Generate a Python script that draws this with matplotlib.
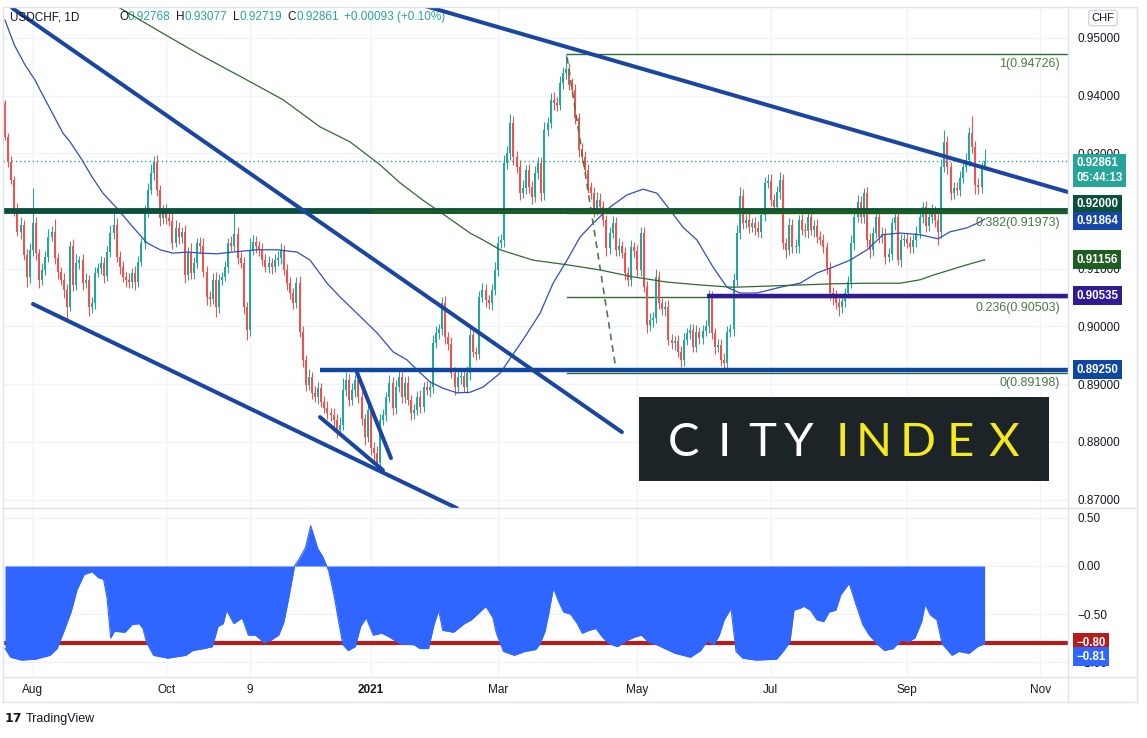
"""USD/CHF daily candles with trend lines, fib levels and a correlation pane"""

import numpy as np
import pandas as pd
import matplotlib
matplotlib.use("Agg")
import matplotlib.pyplot as plt
from matplotlib.lines import Line2D
from matplotlib.patches import Rectangle

plt.rcParams['font.family'] = ['Liberation Sans', 'DejaVu Sans']

W, H = 1147, 738
GREEN = '#26A69A'
RED = '#EF5350'
DARK = '#131722'
GRID = '#F0F3FA'
BORDER = '#E0E3EB'

# daily closes in pips (0.xxxx), one list per month
jul20 = [9328, 9285, 9254, 9202, 9164, 9176, 9124, 9086, 9133]
aug20 = [9179, 9127, 9081, 9098, 9121, 9155, 9164, 9119, 9095, 9081, 9063,
         9034, 9140, 9072, 9110, 9115, 9075, 9081, 9034, 9040, 9093]
sep20 = [9101, 9110, 9088, 9129, 9162, 9176, 9121, 9103, 9086, 9081, 9077,
         9093, 9077, 9112, 9145, 9198, 9237, 9266, 9285, 9237, 9188, 9200]
oct20 = [9188, 9183, 9145, 9170, 9155, 9164, 9089, 9127, 9093, 9110, 9145,
         9140, 9095, 9051, 9048, 9081, 9034, 9081, 9086, 9103, 9145, 9140]
nov20 = [9160, 9119, 9110, 9034, 8994, 9133, 9147, 9140, 9133, 9115, 9103,
         9110, 9103, 9115, 9119, 9133, 9098, 9075, 9058, 9041, 9075]
dec20 = [8991, 8942, 8899, 8912, 8885, 8878, 8893, 8870, 8859, 8850, 8847,
         8838, 8821, 8830, 8890, 8907, 8873, 8890, 8907, 8878, 8840, 8809, 8855]
jan21 = [8790, 8781, 8764, 8838, 8847, 8878, 8902, 8859, 8895, 8912, 8878,
         8902, 8873, 8850, 8855, 8878, 8861, 8895, 8890, 8895, 8971]
feb21 = [8989, 8995, 9041, 8982, 8970, 8919, 8895, 8912, 8915, 8895,
         8920, 8985, 8956, 8953, 9051, 9063, 9046, 9040, 9063, 9098]
mar21 = [9145, 9150, 9283, 9300, 9353, 9294, 9276, 9231, 9240, 9271,
         9242, 9224, 9266, 9283, 9231, 9341, 9353, 9393, 9387, 9384,
         9422, 9439, 9447]
apr21 = [9419, 9410, 9361, 9306, 9294, 9271, 9242, 9231, 9202, 9219,
         9207, 9185, 9136, 9162, 9179, 9133, 9140, 9127, 9093, 9081, 9138, 9130]
may21 = [9098, 9162, 9069, 9003, 9011, 9015, 9086, 9041, 9030, 9034,
         8977, 8971, 8975, 8956, 8942, 8977, 8989, 8994, 8965, 8990, 8980]
jun21 = [8993, 9000, 9051, 8989, 8965, 8968, 8942, 8937, 8991, 8995,
         9081, 9162, 9226, 9179, 9185, 9173, 9179, 9171, 9164, 9193, 9249, 9252]
jul21 = [9219, 9207, 9233, 9254, 9145, 9133, 9176, 9138, 9140, 9185,
         9167, 9165, 9190, 9167, 9175, 9155, 9150, 9138, 9101, 9058, 9051, 9040]
aug21 = [9034, 9045, 9058, 9077, 9145, 9190, 9216, 9190, 9231, 9150,
         9133, 9162, 9190, 9155, 9160, 9120, 9125, 9179, 9190, 9115, 9150, 9152]
sep21 = [9145, 9138, 9150, 9162, 9190, 9207, 9175, 9190, 9200, 9185,
         9164, 9277, 9320, 9276, 9231, 9240, 9237, 9258, 9276, 9289, 9335, 9311]
oct21 = [9245, 9242, 9276.8, 9286.1]
first_open = 0.9387

# wick lengths above / below the body, pips
wick_up = [
    6, 8, 10, 7, 12, 14, 8, 10, 12,
    61, 10, 8, 12, 9, 14, 10, 22, 9, 8, 11, 10, 9, 12, 15, 8, 10, 12, 9, 11, 10,
    9, 12, 10, 11, 14, 20, 12, 9, 10, 8, 11, 9, 12, 10, 9, 12, 11, 15, 10, 12, 9, 11,
    12, 10, 14, 15, 11, 9, 12, 10, 18, 11, 9, 10, 13, 9, 10, 12, 14, 10, 9, 11, 8, 12,
    45, 12, 10, 11, 9, 20, 12, 10, 9, 11, 10, 12, 9, 10, 12, 11, 9, 10, 11, 9, 10,
    12, 10, 9, 14, 10, 12, 11, 9, 10, 12, 9, 11, 10, 14, 20, 15, 10, 12, 9, 10, 11, 9, 12,
    10, 9, 12, 11, 10, 9, 14, 10, 12, 11, 9, 10, 12, 9, 11, 10, 12, 9, 10, 11, 14,
    12, 10, 10, 11, 9, 12, 10, 9, 11, 10, 12, 14, 10, 9, 11, 12, 10, 9, 11, 14,
    12, 10, 14, 12, 15, 11, 10, 12, 14, 9, 11, 10, 12, 10, 11, 13, 10, 12, 14, 10, 12, 11, 26,
    10, 12, 11, 9, 12, 10, 11, 9, 10, 14, 12, 10, 9, 11, 12, 10, 14, 9, 11, 10, 12, 9,
    12, 10, 11, 9, 12, 10, 14, 10, 9, 11, 12, 10, 9, 11, 10, 12, 9, 11, 10, 12, 9,
    9, 11, 12, 10, 9, 11, 10, 12, 9, 10, 11, 14, 15, 12, 10, 11, 9, 10, 12, 11, 10, 12,
    12, 10, 11, 14, 10, 9, 12, 10, 11, 9, 10, 12, 11, 9, 10, 12, 11, 10, 9, 11, 10, 12,
    10, 12, 9, 11, 14, 10, 12, 11, 9, 10, 12, 11, 10, 9, 12, 10, 11, 9, 12, 10, 11, 9,
    10, 11, 9, 12, 10, 9, 11, 10, 12, 9, 10, 14, 21, 10, 9, 11, 10, 12, 9, 11, 10, 30,
    10, 12, 9, 21.6,
]
wick_dn = [
    5, 9, 7, 10, 8, 12, 9, 18, 10,
    10, 12, 15, 9, 8, 10, 7, 11, 12, 9, 14, 25, 8, 11, 9, 10, 12, 8, 16, 10, 9,
    8, 10, 12, 9, 8, 11, 10, 12, 9, 13, 11, 10, 14, 9, 8, 10, 9, 8, 12, 10, 14, 11,
    10, 9, 11, 8, 12, 10, 14, 9, 11, 10, 8, 12, 10, 14, 12, 9, 18, 10, 9, 8, 11, 10,
    10, 11, 9, 12, 17, 10, 9, 12, 10, 11, 9, 10, 12, 9, 10, 11, 9, 12, 10, 11, 9,
    10, 12, 11, 9, 10, 8, 12, 10, 9, 11, 10, 12, 14, 10, 9, 11, 10, 9, 12, 10, 11, 14, 9,
    12, 14, 7, 10, 9, 11, 8, 12, 10, 9, 11, 10, 9, 12, 10, 9, 11, 10, 9, 12, 10,
    9, 11, 10, 12, 10, 9, 14, 10, 11, 9, 10, 12, 9, 11, 10, 9, 12, 10, 11, 9,
    10, 9, 12, 10, 11, 14, 10, 12, 9, 11, 10, 12, 9, 10, 14, 11, 10, 9, 12, 10, 9, 11, 10,
    9, 11, 10, 12, 10, 9, 11, 10, 12, 9, 11, 10, 14, 10, 9, 11, 10, 9, 12, 10, 11, 9,
    10, 11, 9, 14, 10, 12, 9, 11, 10, 12, 9, 10, 11, 9, 13, 10, 9, 11, 10, 9, 11,
    10, 9, 11, 10, 12, 9, 11, 14, 10, 9, 12, 10, 11, 10, 9, 11, 10, 12, 9, 10, 11, 9,
    10, 11, 9, 12, 10, 14, 9, 11, 10, 12, 9, 10, 11, 9, 12, 10, 9, 11, 10, 12, 14, 10,
    16, 10, 11, 9, 10, 12, 9, 11, 10, 12, 14, 10, 9, 11, 10, 12, 9, 10, 11, 9, 12, 10,
    9, 11, 10, 12, 9, 10, 11, 9, 10, 12, 22, 10, 9, 11, 12, 10, 9, 11, 10, 9, 11, 10,
    15, 12, 10, 4.9,
]

# moving averages (bar number, price)
ma_fast_bar = [0, 3, 6.5, 9.7, 11.3, 18.7, 21, 24.8, 28.1, 31.6, 36.1, 41.3, 45.8, 50,
               54.2, 58.7, 63.9, 68.4, 73.5, 81.3, 87.7, 94.2, 98.4, 103.9, 108.1,
               113.5, 120, 125.2, 129.7, 132.9, 137.1, 141.3, 145.8, 150, 154.2,
               159.7, 167.1, 172.6, 176.8, 181.3, 185.5, 189.7, 195.2, 200.6, 205.8,
               210.3, 214.5, 218.7, 223.2, 228.4, 232.9, 237.1, 242.6, 250, 256.5,
               262, 267.1, 272.6, 278.1, 283.2, 288.7, 295.2, 301, 304.8, 310.3,
               314.5, 316]
ma_fast_val = [0.9531, 0.9488, 0.9453, 0.9427, 0.9410, 0.9335, 0.9320, 0.9289,
               0.9259, 0.9231, 0.9205, 0.9172, 0.9145, 0.9133, 0.9127, 0.9129,
               0.9127, 0.9126, 0.9129, 0.9133, 0.9133, 0.9129, 0.9115, 0.9075,
               0.9051, 0.9023, 0.8989, 0.8956, 0.8942, 0.8925, 0.8904, 0.8893,
               0.8885, 0.8886, 0.8895, 0.8919, 0.8977, 0.9023, 0.9075, 0.9115,
               0.9155, 0.9179, 0.9207, 0.9228, 0.9238, 0.9231, 0.9202, 0.9172,
               0.9150, 0.9103, 0.9068, 0.9058, 0.9058, 0.9068, 0.9075, 0.9093,
               0.9103, 0.9115, 0.9133, 0.9159, 0.9162, 0.9159, 0.9152, 0.9164,
               0.9171, 0.9181, 0.91864]
ma_slow_bar = [35.5, 49, 62.9, 78.1, 89.7, 101.6, 111.3, 121, 127.4, 134.8, 142.6,
               150, 154.2, 159.7, 170.3, 181.3, 191.9, 202.6, 213.5, 224.2, 234.8,
               245.8, 256.5, 267.1, 278.1, 288.7, 295.2, 299.4, 310.3, 316]
ma_slow_val = [0.9557, 0.9514, 0.9471, 0.9427, 0.9393, 0.9346, 0.9320, 0.9280,
               0.9249, 0.9219, 0.9190, 0.9162, 0.9150, 0.9133, 0.9115, 0.9107,
               0.9098, 0.9086, 0.9077, 0.9072, 0.9068, 0.9070, 0.9072, 0.9074,
               0.9075, 0.9075, 0.9081, 0.9089, 0.9107, 0.91156]

# hand-drawn trend lines (start bar, start price, end bar, end price)
trend_bar0 = [2.3, 135.2, 9.0, 101.6, 113.5]
trend_p0 = [0.9552, 0.9556, 0.9039, 0.8843, 0.8921]
trend_bar1 = [199.0, 342.9, 145.8, 121.9, 124.5]
trend_p1 = [0.8817, 0.9233, 0.8685, 0.8751, 0.8772]

level_price = [0.92000, 0.91990, 0.89250, 0.90535]
level_start = [-0.6, 118.7, 101.6, 226.5]
level_color = ['#0B4F3F', '#1B5E20', '#0D47A1', '#311B92']
level_width = [4.2, 2.6, 3.2, 3.2]

fib_ratio = ['1', '0.382', '0.236', '0']
fib_price = [0.94726, 0.91973, 0.90503, 0.89198]
fib_start = 181.3

# correlation pane (bar number, coefficient)
corr_bar = [0, 1.8, 5.3, 9.9, 14.5, 16.8, 19.1, 21.4, 23.2, 25.5, 28.1, 30.1, 31.8,
            32.9, 34.1, 35.3, 38.7, 41.0, 43.3, 44.5, 45.6, 47.9, 52.5, 58.3, 60.6,
            64.1, 66.9, 68.7, 70.4, 71.5, 73.8, 76.5, 78.5, 80.8, 83.6, 85.9, 88.3,
            90.0, 91.7, 93.4, 95.2, 96.9, 98.6, 100.9, 102.6, 104.4, 106.1, 107.8,
            109.0, 110.7, 113.0, 114.7, 116.5, 118.8, 121.6, 124.0, 127.4, 132.0,
            133.8, 136.6, 138.4, 139.9, 141.2, 144.7, 148.2, 150.5, 155.1, 157.4,
            158.5, 160.8, 164.3, 167.7, 171.2, 172.6, 174.2, 175.3, 176.9, 178.6,
            180.2, 182.4, 184.6, 186.2, 188.4, 190.6, 192.7, 194.9, 197.6, 200.4,
            203.1, 205.3, 207.5, 210.2, 212.9, 216.2, 221.1, 224.4, 226.5, 228.7,
            230.4, 232.0, 234.2, 235.8, 238.0, 242.3, 248.9, 251.0, 253.2, 254.5,
            256.5, 257.6, 259.8, 261.9, 264.1, 265.8, 268.0, 269.6, 272.3, 274.5,
            276.7, 278.8, 281.6, 283.7, 286.5, 289.2, 291.4, 293.5, 295.7, 296.8,
            298.5, 300.6, 302.3, 305.5, 307.7, 311.0, 313.7, 316]
corr_val = [-0.86, -0.95, -0.98, -0.97, -0.93, -0.86, -0.67, -0.47, -0.25, -0.09,
            -0.06, -0.12, -0.14, -0.33, -0.75, -0.68, -0.69, -0.61, -0.60, -0.65,
            -0.79, -0.93, -0.96, -0.93, -0.88, -0.86, -0.84, -0.63, -0.60, -0.46,
            -0.60, -0.54, -0.72, -0.72, -0.80, -0.77, -0.72, -0.58, -0.30, 0.0,
            0.09, 0.19, 0.42, 0.18, 0.09, -0.05, -0.30, -0.61, -0.82, -0.88, -0.84,
            -0.63, -0.54, -0.72, -0.70, -0.74, -0.81, -0.82, -0.86, -0.86, -0.61,
            -0.46, -0.67, -0.69, -0.60, -0.56, -0.42, -0.54, -0.70, -0.89, -0.93,
            -0.89, -0.87, -0.81, -0.68, -0.51, -0.23, -0.37, -0.48, -0.50, -0.60,
            -0.70, -0.67, -0.65, -0.74, -0.81, -0.84, -0.78, -0.74, -0.72, -0.79,
            -0.82, -0.86, -0.91, -0.95, -0.88, -0.78, -0.82, -0.72, -0.56, -0.44,
            -0.89, -0.96, -0.98, -0.97, -0.89, -0.79, -0.46, -0.44, -0.42, -0.46,
            -0.56, -0.58, -0.48, -0.46, -0.30, -0.18, -0.40, -0.61, -0.72, -0.82,
            -0.88, -0.86, -0.77, -0.79, -0.75, -0.58, -0.40, -0.51, -0.56, -0.81,
            -0.93, -0.89, -0.91, -0.84, -0.81]
corr_level = -0.80

tick_dates = ['2020-08-03', '2020-10-01', '2020-11-09', '2021-01-01', '2021-03-01',
              '2021-05-03', '2021-07-01', '2021-09-01', '2021-11-01']
tick_labels = ['Aug', 'Oct', '9', '2021', 'Mar', 'May', 'Jul', 'Sep', 'Nov']
price_ticks = [0.87, 0.88, 0.89, 0.90, 0.91, 0.92, 0.93, 0.94, 0.95]
corr_ticks = [0.5, 0.0, -0.5, -1.0]

# ---- candles ----
closes = np.array(jul20 + aug20 + sep20 + oct20 + nov20 + dec20 + jan21 + feb21 +
                  mar21 + apr21 + may21 + jun21 + jul21 + aug21 + sep21 + oct21) / 1e4
opens = np.concatenate([[first_open], closes[:-1]])
highs = np.maximum(opens, closes) + np.array(wick_up) / 1e4
lows = np.minimum(opens, closes) - np.array(wick_dn) / 1e4
bars = np.arange(len(closes))
colors = np.where(closes >= opens, GREEN, RED)

all_days = pd.bdate_range('2020-07-21', '2021-12-31')
tick_pos = all_days.get_indexer(pd.to_datetime(tick_dates))


def fx(px):
    return px / W


def fy(py):
    return 1 - py / H


fig = plt.figure(figsize=(W / 100, H / 100), dpi=100)
fig.patch.set_facecolor('white')
ax = fig.add_axes([fx(3), fy(508), (1068 - 3) / W, (508 - 8) / H])
ax2 = fig.add_axes([fx(3), fy(677), (1068 - 3) / W, (677 - 508) / H], sharex=ax)

ax.set_xlim(-0.65, 342.9)
ax.set_ylim(0.868544, 0.955199)
ax2.set_ylim(-1.156, 0.604)

for a in (ax, ax2):
    for s in a.spines.values():
        s.set_visible(False)
    a.set_xticks(tick_pos)
    a.grid(color=GRID, lw=1)
    a.set_axisbelow(True)
    a.yaxis.tick_right()
    a.tick_params(axis='y', length=0, pad=7, labelsize=8.5, labelcolor=DARK)

ax.set_yticks(price_ticks)
ax.set_yticklabels([f'{v:.5f}' for v in price_ticks])
ax.tick_params(axis='x', length=0, labelbottom=False)
ax2.set_yticks(corr_ticks)
ax2.set_yticklabels([f'{v:.2f}'.replace('-', '\u2212') for v in corr_ticks])
ax2.set_xticklabels(tick_labels)
ax2.tick_params(axis='x', length=0, pad=5, labelsize=8.5, labelcolor=DARK)
for lab in ax2.get_xticklabels():
    if lab.get_text() == '2021':
        lab.set_fontweight('bold')

# candles
ax.vlines(bars, lows, highs, colors=colors, lw=0.8, zorder=3)
ax.bar(bars, np.maximum(np.abs(closes - opens), 0.00006), bottom=np.minimum(opens, closes),
       width=0.62, color=colors, linewidth=0, zorder=3)

# current price dotted line
ax.axhline(closes[-1], color=GREEN, lw=1, ls=(0, (1, 2)), zorder=2)

# moving averages
ax.plot(ma_fast_bar, ma_fast_val, color='#2F4FC0', lw=0.9, zorder=4)
ax.plot(ma_slow_bar, ma_slow_val, color='#2E6B2E', lw=0.9, zorder=4)

# fib retracement
for r, p in zip(fib_ratio, fib_price):
    ax.plot([fib_start, 342.9], [p, p], color='#2E6B2E', lw=1, zorder=2.6)
    ax.annotate(f'{r}({p:.5f})', xy=(340.3, p), xytext=(0, -3), textcoords='offset points',
                ha='right', va='top', fontsize=9, color='#4A7A43', zorder=6)
ax.plot([fib_start, 197.1], [0.9467, 0.8925], color='#4C7C44', lw=1.2,
        dashes=(4, 3), zorder=4)

# horizontal levels and trend lines
for p, b0, c, w in zip(level_price, level_start, level_color, level_width):
    ax.plot([b0, 342.9], [p, p], color=c, lw=w, zorder=5, solid_capstyle='butt')
for b0, p0, b1, p1 in zip(trend_bar0, trend_p0, trend_bar1, trend_p1):
    ax.plot([b0, b1], [p0, p1], color='#1A46A3', lw=2.9, zorder=5, solid_capstyle='round')

# correlation pane
ax2.axhline(corr_level, color='#B71C1C', lw=3, zorder=2)
ax2.fill_between(corr_bar, corr_val, 0, color='#2E66FF', lw=0, zorder=3)
ax2.plot(corr_bar, corr_val, color='#2E66FF', lw=0.8, zorder=3)


def tag(axis, yval, text, fc, dy=0):
    axis.annotate(text, xy=(1, yval), xycoords=('axes fraction', 'data'),
                  xytext=(6, dy), textcoords='offset points', ha='left', va='center',
                  fontsize=8.3, color='white', fontweight='bold', linespacing=1.25,
                  bbox=dict(boxstyle='square,pad=0.3', fc=fc, ec='none'),
                  annotation_clip=False, zorder=10)


tag(ax, closes[-1], '0.92861\n05:44:13', GREEN, dy=-6.5)
tag(ax, 0.92000, '0.92000', '#0B4F3F', dy=5)
tag(ax, 0.91864, '0.91864', '#1845A8', dy=-1.5)
tag(ax, 0.91156, '0.91156', '#1E5E20')
tag(ax, 0.90535, '0.90535', '#311B92')
tag(ax, 0.89250, '0.89250', '#0D47A1')
tag(ax2, corr_level, '\u22120.80', '#B71C1C')
tag(ax2, corr_level, '\u22120.81', '#2E66FF', dy=-10)

# frame lines
frame = [((3, 1137), (7, 7)), ((3, 3), (7, 702)), ((1068, 1068), (7, 702)),
         ((1137, 1137), (7, 702)), ((3, 1137), (508, 508)), ((3, 1137), (677, 677)),
         ((3, 1137), (702, 702))]
for xs, ys in frame:
    fig.add_artist(Line2D([fx(v) for v in xs], [fy(v) for v in ys], color=BORDER, lw=1))

# header
fig.text(fx(10), fy(17), 'USDCHF, 1D', fontsize=8.5, color=DARK, va='center')
t = fig.text(fx(119), fy(17), 'O', fontsize=8.5, color=DARK, va='center')
for s, c, gap in [('0.92768', GREEN, 0), ('H', DARK, 4), ('0.93077', GREEN, 0),
                  ('L', DARK, 4), ('0.92719', GREEN, 0), ('C', DARK, 4),
                  ('0.92861', GREEN, 0), ('+0.00093 (+0.10%)', GREEN, 4)]:
    t = ax.annotate(s, xy=(1, 0), xycoords=t, xytext=(gap, 0), textcoords='offset points',
                    ha='left', va='bottom', fontsize=8.5, color=c, annotation_clip=False)
fig.text(fx(1103), fy(18), 'CHF', fontsize=8, color=DARK, ha='center', va='center',
         bbox=dict(boxstyle='round,pad=0.25', fc='white', ec='#C9CCD4', lw=0.8))

# footer
fig.text(fx(5), fy(719), '17', fontsize=9, fontweight='heavy', color=DARK, va='center',
         family='DejaVu Sans')
fig.text(fx(26), fy(719), 'TradingView', fontsize=9, color=DARK, va='center')

# City Index badge
fig.add_artist(Rectangle((fx(639), fy(481)), 410 / W, 84 / H, transform=fig.transFigure,
                         fc='#1C2428', ec='none', zorder=6))
for ch, cx in zip('CITY', [683, 724, 762, 799]):
    fig.text(fx(cx), fy(456), ch, fontsize=34, color='white', ha='center', va='baseline',
             family='Lato', fontweight='normal', zorder=7)
for ch, cx in zip('INDEX', [842, 874, 918, 960, 1004]):
    fig.text(fx(cx), fy(456), ch, fontsize=34, color='#F3E91B', ha='center', va='baseline',
             family='Lato', fontweight='normal', zorder=7)

fig.savefig('out.png', dpi=100, facecolor='white')
